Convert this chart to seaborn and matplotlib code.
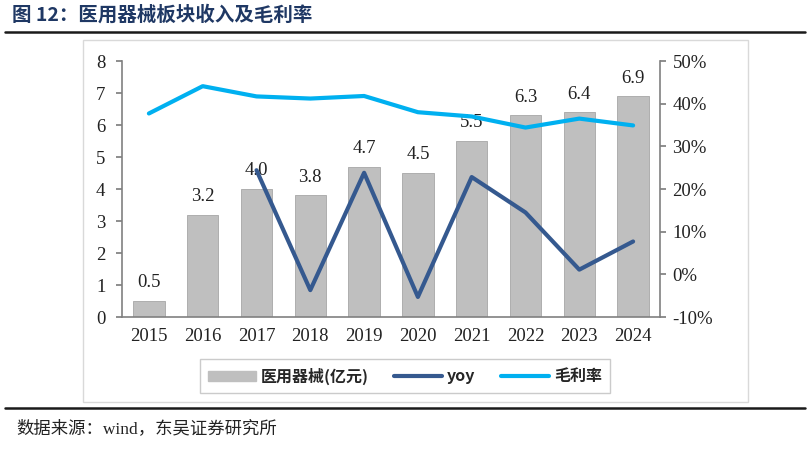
import seaborn as sns
import matplotlib.pyplot as plt
import pandas as pd
from matplotlib.patches import Patch
from matplotlib.lines import Line2D

years = ['2015', '2016', '2017', '2018', '2019', '2020', '2021', '2022', '2023', '2024']
revenue = [0.5, 3.2, 4.0, 3.8, 4.7, 4.5, 5.5, 6.3, 6.4, 6.9]
yoy = [None, None, 24.4, -3.7, 23.8, -5.3, 22.8, 14.5, 1.1, 7.7]
margin = [37.7, 44.1, 41.7, 41.2, 41.8, 38.0, 37.0, 34.4, 36.5, 34.9]

df = pd.DataFrame({'year': years, 'revenue': revenue, 'yoy': yoy, 'margin': margin})
df['pos'] = range(len(df))

sns.set_theme(style='white')
plt.rcParams['font.family'] = ['Liberation Serif', 'Noto Sans CJK SC']
cjk = ['Noto Sans CJK SC', 'DejaVu Sans']

bar_color = '#BFBFBF'
yoy_color = '#35598F'
margin_color = '#00B0F0'

fig = plt.figure(figsize=(8.1, 4.49), dpi=100)
ax = fig.add_axes([122 / 810, 1 - 317 / 449, 538 / 810, 256 / 449])

sns.barplot(data=df, x='year', y='revenue', color=bar_color, width=0.58,
            edgecolor='#A6A6A6', linewidth=0.6, saturation=1, ax=ax)
for i, v in enumerate(revenue):
    ax.text(i, v + 0.3, f'{v:.1f}', ha='center', va='bottom', fontsize=13.5, color='#222222')

ax2 = ax.twinx()
sns.lineplot(data=df, x='pos', y='yoy', color=yoy_color, linewidth=3, ax=ax2)
sns.lineplot(data=df, x='pos', y='margin', color=margin_color, linewidth=3, ax=ax2)

ax.set_xlim(-0.5, len(years) - 0.5)
ax.set_ylim(0, 8)
ax.set_yticks(range(0, 9))
ax2.set_ylim(-10, 50)
ax2.set_yticks(range(-10, 51, 10))
ax2.set_yticklabels([f'{t}%' for t in range(-10, 51, 10)])

for a in (ax, ax2):
    a.set_xlabel('')
    a.set_ylabel('')
    for s in a.spines.values():
        s.set_visible(False)
    a.tick_params(axis='both', labelsize=13.5, colors='#222222', length=0, pad=6)

ax.spines['left'].set_visible(True)
ax.spines['bottom'].set_visible(True)
ax2.spines['right'].set_visible(True)
for s in (ax.spines['left'], ax.spines['bottom'], ax2.spines['right']):
    s.set_color('#808080')
    s.set_linewidth(1.2)
ax.tick_params(axis='y', length=4, direction='out', color='#808080', pad=8)
ax2.tick_params(axis='y', length=4, direction='out', color='#808080', pad=5)
ax.tick_params(axis='x', pad=8)

# light frame around the chart area
fig.add_artist(plt.Rectangle((83 / 810, 1 - 402 / 449), 665 / 810, 362 / 449,
                             transform=fig.transFigure, fill=False,
                             edgecolor='#D9D9D9', linewidth=1))

handles = [Patch(facecolor=bar_color, edgecolor=bar_color),
           Line2D([0], [0], color=yoy_color, linewidth=3),
           Line2D([0], [0], color=margin_color, linewidth=3)]
labels = ['医用器械(亿元)', 'yoy', '毛利率']
leg = fig.legend(handles, labels, loc='center', bbox_to_anchor=(405 / 810, 1 - 376 / 449),
                 ncol=3, frameon=True, fancybox=False, edgecolor='#BFBFBF',
                 handlelength=3.0, handleheight=0.6, columnspacing=1.6, handletextpad=0.3,
                 borderpad=0.5, borderaxespad=0,
                 prop={'family': cjk, 'size': 11.5, 'weight': 'bold'})
leg.get_frame().set_linewidth(1)

fig.text(12 / 810, 1 - 15 / 449, '图 12：医用器械板块收入及毛利率', fontsize=14,
         fontweight='bold', color='#1F3864', family=cjk, va='center')
fig.add_artist(Line2D([5 / 810, 805 / 810], [1 - 32 / 449] * 2, color='#1a1a1a',
                      linewidth=1.8, transform=fig.transFigure))
fig.add_artist(Line2D([5 / 810, 805 / 810], [1 - 408 / 449] * 2, color='#1a1a1a',
                      linewidth=1.8, transform=fig.transFigure))
fig.text(16 / 810, 1 - 429 / 449, '数据来源：wind，东吴证券研究所', fontsize=12.5,
         color='#222222', family=['Liberation Serif', 'Noto Sans CJK SC'], va='center')

fig.savefig('out.png', dpi=100)
